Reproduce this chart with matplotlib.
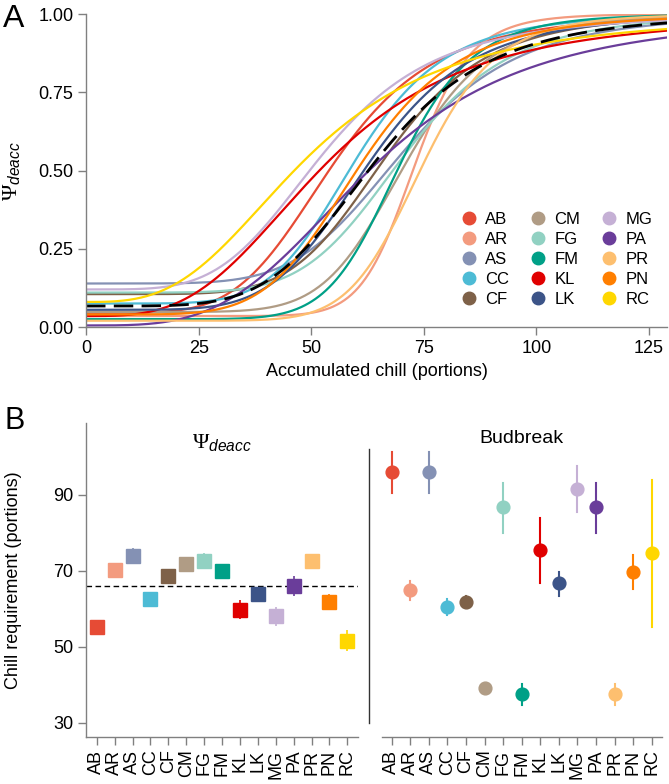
import numpy as np
import matplotlib
matplotlib.use("Agg")
import matplotlib.pyplot as plt
from matplotlib.lines import Line2D

plt.rcParams['font.family'] = ['Liberation Sans', 'DejaVu Sans']
plt.rcParams['mathtext.fontset'] = 'custom'
plt.rcParams['mathtext.rm'] = 'Liberation Serif'
plt.rcParams['mathtext.it'] = 'Liberation Sans:italic'

# Species codes and colours
species = ['AB', 'AR', 'AS', 'CC', 'CF', 'CM', 'FG', 'FM', 'KL', 'LK', 'MG', 'PA', 'PR', 'PN', 'RC']
colors = ['#E64B35', '#F39B7F', '#8491B4', '#4DBBD5', '#7E6148', '#B09C85', '#91D1C2', '#00A087',
          '#E00000', '#3C5488', '#C5B0D5', '#6A3D9A', '#FDBF6F', '#FF7F00', '#FFD700']

# Fitted log-logistic curves (panel A): lower asymptote, midpoint, slope
curve_low = [0.045, 0.035, 0.139, 0.075, 0.105, 0.048, 0.110, 0.025, 0.035, 0.055, 0.120, 0.005, 0.020, 0.040, 0.080]
curve_mid = [55.0, 73.0, 71.0, 60.0, 67.0, 71.0, 71.0, 69.5, 53.0, 63.0, 53.0, 63.0, 74.5, 61.0, 49.0]
curve_slope = [4.8, 12.0, 5.5, 6.0, 6.0, 7.5, 6.0, 8.5, 3.2, 5.5, 4.2, 3.5, 9.0, 5.5, 3.0]
mean_low, mean_mid, mean_slope = 0.067, 64.5, 5.0

# Chill requirement (panel B)
deacc_cr = [55.1, 70.1, 73.9, 62.6, 68.6, 71.9, 72.7, 70.0, 59.8, 63.9, 58.1, 66.0, 72.7, 61.9, 51.6]
deacc_err = [1.8, 0.8, 2.2, 0.6, 0.6, 0.8, 2.0, 0.6, 2.4, 1.9, 2.5, 2.7, 0.8, 2.0, 2.8]
deacc_mean = 66.0

bud_cr = [96.0, 64.9, 96.0, 60.4, 61.9, 39.2, 86.7, 37.5, 75.4, 66.7, 91.5, 86.7, 37.5, 69.7, 74.7]
bud_lo = [90.5, 62.3, 90.5, 58.3, 60.5, 38.5, 80.0, 34.7, 66.8, 63.3, 85.4, 80.0, 34.7, 65.1, 55.3]
bud_hi = [101.3, 67.4, 101.3, 62.5, 63.4, 39.9, 93.2, 40.1, 84.0, 69.7, 97.6, 93.2, 40.1, 74.2, 93.9]


def psi(x, low, mid, slope):
    return low + (1 - low) * x ** slope / (x ** slope + mid ** slope)


def style_axes(ax):
    for s in ['top', 'right']:
        ax.spines[s].set_visible(False)
    for s in ['left', 'bottom']:
        ax.spines[s].set_color('#808080')
        ax.spines[s].set_linewidth(1.0)
    ax.tick_params(direction='out', length=6, width=1.0, color='#808080', labelsize=13, pad=3)


fig = plt.figure(figsize=(6.69, 7.84), dpi=100)

# Panel A
axA = fig.add_axes([0.1286, 0.5829, 0.8685, 0.3992])
style_axes(axA)
x = np.linspace(0, 129, 500)
for i in range(len(species)):
    axA.plot(x, psi(x, curve_low[i], curve_mid[i], curve_slope[i]), color=colors[i], lw=1.6)
axA.plot(x, psi(x, mean_low, mean_mid, mean_slope), color='black', lw=2.0, ls=(0, (7, 3)))
axA.set_xlim(0, 129)
axA.set_ylim(0, 1.0)
axA.set_xticks([0, 25, 50, 75, 100, 125])
axA.set_yticks([0, 0.25, 0.5, 0.75, 1.0])
axA.set_yticklabels(['0.00', '0.25', '0.50', '0.75', '1.00'])
axA.set_xlabel('Accumulated chill (portions)', fontsize=13)
axA.set_ylabel(r'$\Psi_{deacc}$', fontsize=16)
axA.xaxis.set_label_coords(0.5, -0.115)
axA.yaxis.set_label_coords(-0.108, 0.5)

handles = [Line2D([], [], ls='none', marker='o', ms=9, color=c) for c in colors]
axA.legend(handles, species, ncol=3, loc='lower right', bbox_to_anchor=(1.0, 0.015), frameon=False,
           fontsize=12, handlelength=1.0, handletextpad=0.5, columnspacing=1.2, labelspacing=0.3)

fig.text(0.004, 0.995, 'A', fontsize=23, va='top', ha='left')
fig.text(0.006, 0.482, 'B', fontsize=22, va='top', ha='left')

# Panel B left: Psi_deacc
pos = np.arange(len(species))
axL = fig.add_axes([0.1286, 0.0599, 0.4066, 0.4005])
style_axes(axL)
for i in range(len(species)):
    axL.errorbar(pos[i], deacc_cr[i], yerr=deacc_err[i], color=colors[i], marker='s', ms=10.3,
                 elinewidth=1.2, capsize=0)
axL.axhline(deacc_mean, color='black', lw=1.0, ls=(0, (4, 2.5)))
axL.set_xlim(-0.6, 14.6)
axL.set_ylim(26.24, 108.9)
axL.set_yticks([30, 50, 70, 90])
axL.set_xticks(pos)
axL.set_xticklabels(species, rotation=90)
axL.set_ylabel('Chill requirement (portions)', fontsize=13)
axL.yaxis.set_label_coords(-0.235, 0.5)
axL.text(0.5, 0.935, r'$\Psi_{deacc}$', transform=axL.transAxes, ha='center', va='center', fontsize=16)

# Panel B right: budbreak
axR = fig.add_axes([0.5516, 0.0599, 0.438, 0.4005])
style_axes(axR)
for i in range(len(species)):
    axR.plot([pos[i], pos[i]], [bud_lo[i], bud_hi[i]], color=colors[i], lw=1.5)
    axR.plot(pos[i], bud_cr[i], marker='o', ms=9.2, color=colors[i], ls='none')
axR.set_xlim(-1.22, 14.55)
axR.set_ylim(26.24, 108.9)
axR.spines['left'].set_bounds(30, 102)
axR.spines['left'].set_color('#333333')
axR.spines['bottom'].set_bounds(-0.52, 14.55)
axR.set_yticks([])
axR.set_xticks(pos)
axR.set_xticklabels(species, rotation=90)
axR.text(0.52, 0.95, 'Budbreak', transform=axR.transAxes, ha='center', va='center', fontsize=14)

fig.savefig('out.png', dpi=100)
